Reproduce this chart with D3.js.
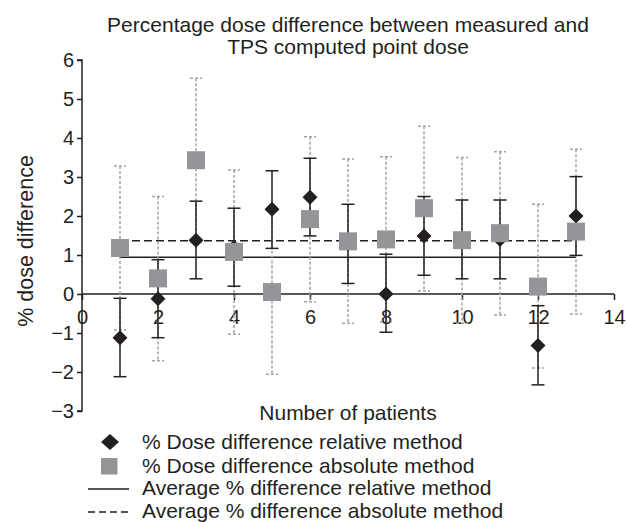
<!DOCTYPE html>
<html><head><meta charset="utf-8">
<script src="https://cdn.jsdelivr.net/npm/d3@7"></script>
<style>
body{margin:0;background:#fff;}
svg text{font-family:"Liberation Sans",Arial,sans-serif;fill:#231f20;}
</style></head>
<body><svg id="c" width="627" height="522"></svg>
<script>
const patients = [1,2,3,4,5,6,7,8,9,10,11,12,13];
const relValues = [-1.12,-0.12,1.38,1.2,2.17,2.48,1.29,0.0,1.49,1.4,1.4,-1.32,2.0];
const relUpper  = [-0.11,0.88,2.38,2.2,3.16,3.48,2.3,1.02,2.5,2.41,2.41,-0.3,3.01];
const relLower  = [-2.12,-1.12,0.39,0.2,1.17,1.49,0.27,-0.98,0.48,0.39,0.39,-2.33,0.99];
const absValues = [1.18,0.4,3.43,1.08,0.05,1.92,1.35,1.4,2.2,1.38,1.56,0.19,1.6];
const absUpper  = [3.28,2.5,5.53,3.18,2.14,4.03,3.46,3.52,4.3,3.5,3.65,2.3,3.71];
const absLower  = [-0.92,-1.71,1.33,-1.03,-2.06,-0.2,-0.75,-0.72,0.08,-0.75,-0.54,-1.9,-0.51];
const avgRel = 0.94;
const avgAbs = 1.365;
const xTicks = [0,2,4,6,8,10,12,14];
const yTicks = [-3,-2,-1,0,1,2,3,4,5,6];
const titleLines = ["Percentage dose difference between measured and","TPS computed point dose"];
const xTitle = "Number of patients";
const yTitle = "% dose difference";
const legendLabels = ["% Dose difference relative method","% Dose difference absolute method","Average % difference relative method","Average % difference absolute method"];

const svg = d3.select("#c");
const x = d3.scaleLinear().domain([0,14]).range([82,614]);
const y = d3.scaleLinear().domain([-3,6]).range([411,60]);
const sqColor = "#939598";
const errGray = "#a3a3a3";

// title
svg.append("text").attr("x",348).attr("y",32).attr("text-anchor","middle").style("font-size","21px").text(titleLines[0]);
svg.append("text").attr("x",348).attr("y",54).attr("text-anchor","middle").style("font-size","21px").text(titleLines[1]);

// axes
const yAxis = svg.append("g").attr("transform",`translate(${x(0)},0)`)
  .call(d3.axisLeft(y).tickValues(yTicks).tickSize(5).tickPadding(3).tickFormat(d3.format("d")));
const xAxis = svg.append("g").attr("transform",`translate(0,${y(0)})`)
  .call(d3.axisBottom(x).tickValues(xTicks).tickSize(6).tickPadding(10).tickSizeOuter(0).tickFormat(d3.format("d")));
[yAxis,xAxis].forEach(g=>{
  g.select(".domain").attr("stroke","#231f20").attr("stroke-width",1.5);
  g.selectAll(".tick line").attr("stroke","#231f20").attr("stroke-width",1.5);
  g.selectAll(".tick text").style("font-size","20px").attr("fill","#231f20");
});
yAxis.select(".domain").attr("d",`M-5,${y(6)}H0V${y(-3)}H-5`);
xAxis.select(".domain").attr("d",`M${x(0)},0H${x(14)}`);

// axis titles
svg.append("text").attr("x",348).attr("y",420).attr("text-anchor","middle").style("font-size","21px").text(xTitle);
svg.append("text").attr("transform","translate(33,241) rotate(-90)").attr("text-anchor","middle").style("font-size","21.5px").text(yTitle);

const plot = svg.append("g");
// average lines
plot.append("line").attr("x1",x(patients[0])).attr("x2",x(patients[12])).attr("y1",y(avgRel)).attr("y2",y(avgRel))
  .attr("stroke","#231f20").attr("stroke-width",1.5);
plot.append("line").attr("x1",x(patients[0])).attr("x2",x(patients[12])).attr("y1",y(avgAbs)).attr("y2",y(avgAbs))
  .attr("stroke","#231f20").attr("stroke-width",1.5).attr("stroke-dasharray","8,4");

const absData = patients.map((p,i)=>({p,v:absValues[i],u:absUpper[i],l:absLower[i]}));
const relData = patients.map((p,i)=>({p,v:relValues[i],u:relUpper[i],l:relLower[i]}));
// absolute error bars (gray dashed)
const ga = plot.append("g").attr("stroke",errGray).attr("stroke-width",1.5).attr("stroke-dasharray","3,2");
absData.forEach(d=>{
  ga.append("line").attr("x1",x(d.p)).attr("x2",x(d.p)).attr("y1",y(d.u)).attr("y2",y(d.l));
  ga.append("line").attr("x1",x(d.p)-6).attr("x2",x(d.p)+6).attr("y1",y(d.u)).attr("y2",y(d.u));
  ga.append("line").attr("x1",x(d.p)-6).attr("x2",x(d.p)+6).attr("y1",y(d.l)).attr("y2",y(d.l));
});
// relative error bars (black solid)
const gr = plot.append("g").attr("stroke","#231f20").attr("stroke-width",1.5);
relData.forEach(d=>{
  gr.append("line").attr("x1",x(d.p)).attr("x2",x(d.p)).attr("y1",y(d.u)).attr("y2",y(d.l));
  gr.append("line").attr("x1",x(d.p)-6.5).attr("x2",x(d.p)+6.5).attr("y1",y(d.u)).attr("y2",y(d.u));
  gr.append("line").attr("x1",x(d.p)-6.5).attr("x2",x(d.p)+6.5).attr("y1",y(d.l)).attr("y2",y(d.l));
});
// diamonds
const dm = 7.5;
plot.selectAll("path.dia").data(relData).enter().append("path").attr("class","dia")
  .attr("d",d=>`M${x(d.p)},${y(d.v)-dm}L${x(d.p)+dm},${y(d.v)}L${x(d.p)},${y(d.v)+dm}L${x(d.p)-dm},${y(d.v)}Z`)
  .attr("fill","#231f20");
// squares
const sq = 18;
plot.selectAll("rect.sq").data(absData).enter().append("rect").attr("class","sq")
  .attr("x",d=>x(d.p)-sq/2).attr("y",d=>y(d.v)-sq/2).attr("width",sq).attr("height",sq)
  .attr("fill",sqColor);

// legend
const lg = svg.append("g");
const lx = 142, lys = [449,473,495,518];
lg.append("path").attr("d",`M110,434L119,442L110,450L101,442Z`).attr("fill","#231f20");
lg.append("rect").attr("x",101).attr("y",458).attr("width",16.5).attr("height",16.5).attr("fill",sqColor);
lg.append("line").attr("x1",88).attr("x2",129).attr("y1",489).attr("y2",489).attr("stroke","#231f20").attr("stroke-width",1.3);
lg.append("line").attr("x1",88).attr("x2",129).attr("y1",512).attr("y2",512).attr("stroke","#231f20").attr("stroke-width",1.3).attr("stroke-dasharray","7,4");
legendLabels.forEach((t,i)=>{
  lg.append("text").attr("x",lx).attr("y",lys[i]).style("font-size","21px").text(t);
});
</script></body></html>
